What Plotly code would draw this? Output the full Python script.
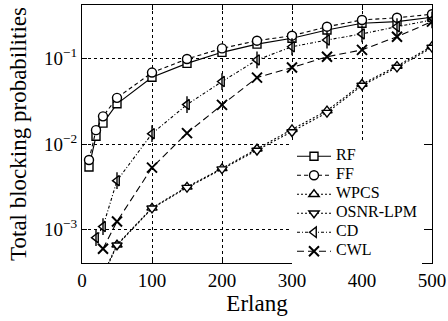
import plotly.graph_objects as go

erlang = [10, 20, 30, 50, 100, 150, 200, 250, 300, 350, 400, 450, 500]
rf = [5.4e-3, 0.0123, 0.0175, 0.0294, 0.060, 0.087, 0.117, 0.146, 0.171, 0.213, 0.255, 0.267, 0.300]
ff = [6.5e-3, 0.0145, 0.0210, 0.0345, 0.068, 0.098, 0.130, 0.160, 0.183, 0.233, 0.279, 0.296, 0.325]

erlang_w = [30, 50, 100, 150, 200, 250, 300, 350, 400, 450, 500]
wpcs = [3.0e-4, 6.7e-4, 1.80e-3, 3.16e-3, 5.2e-3, 8.8e-3, 0.0148, 0.0245, 0.050, 0.081, 0.138]
osnr = [2.9e-4, 6.6e-4, 1.78e-3, 3.10e-3, 5.1e-3, 8.4e-3, 0.0138, 0.0232, 0.048, 0.078, 0.133]

erlang_cd = [20, 30, 50, 100, 150, 200, 250, 300, 350, 400, 450, 500]
cd = [8.1e-4, 1.09e-3, 3.74e-3, 0.0132, 0.0288, 0.0534, 0.0955, 0.136, 0.163, 0.192, 0.233, 0.279]

erlang_cwl = [30, 50, 100, 150, 200, 250, 300, 350, 400, 450, 500]
cwl = [6.0e-4, 1.25e-3, 5.3e-3, 0.0134, 0.0286, 0.0594, 0.0778, 0.104, 0.125, 0.178, 0.267]

FONT = "Liberation Serif"
LEG = '<span style="font-size:16px">{}</span>'
fig = go.Figure()

def add(x, y, name, dash, symbol, size=9, lw=1.4):
    fig.add_trace(go.Scatter(
        x=x, y=y, name=LEG.format(name), mode="lines+markers", legendgroup=name,
        line=dict(color="black", width=1.1, dash=dash),
        marker=dict(symbol=symbol, size=size, color="white",
                    line=dict(color="black", width=lw)),
    ))

add(erlang, rf, "RF", "solid", "square", 8)
add(erlang, ff, "FF", "4px,3px", "circle", 9)
add(erlang_w, wpcs, "WPCS", "2px,2px", "triangle-up", 9)
add(erlang_w, osnr, "OSNR-LPM", "2px,2px", "triangle-down", 9)
add(erlang_cd, cd, "CD", "3px,2px,1px,2px", "triangle-left", 9)
fig.add_trace(go.Scatter(x=erlang_cd, y=cd, mode="markers", showlegend=False, legendgroup="CD",
                         marker=dict(symbol="line-ns-open", size=12, color="black",
                                     line=dict(color="black", width=1.4))))
fig.add_trace(go.Scatter(
    x=erlang_cwl, y=cwl, name=LEG.format("CWL"), mode="lines+markers", legendgroup="CWL",
    line=dict(color="black", width=1.1, dash="7px,4px"),
    marker=dict(symbol="x-thin-open", size=10, color="black", line=dict(color="black", width=2)),
))

axis_common = dict(
    showline=True, linecolor="black", linewidth=1.3, mirror="ticks",
    ticks="inside", ticklen=5, tickcolor="black", tickwidth=1.3,
    showgrid=True, gridcolor="black", gridwidth=1, griddash="3px,3px",
    zeroline=False, automargin=False,
    tickfont=dict(family=FONT, size=19, color="black"),
)

fig.update_xaxes(range=[0, 500], tickvals=[0, 100, 200, 300, 400, 500],
                 title=dict(text="Erlang", font=dict(family=FONT, size=23, color="black"), standoff=4),
                 **axis_common)
fig.update_yaxes(type="log", range=[-3.387, -0.38], tickvals=[1e-3, 1e-2, 1e-1],
                 ticktext=["10<sup>−3</sup>", "10<sup>−2</sup>", "10<sup>−1</sup>"],
                 title=dict(text="Total blocking probabilities", font=dict(family=FONT, size=23, color="black"), standoff=10),
                 **axis_common)

fig.update_layout(
    width=448, height=321,
    margin=dict(l=82, r=16, t=5, b=58),
    plot_bgcolor="white", paper_bgcolor="white",
    font=dict(family=FONT, color="black"),
    legend=dict(x=0.6, y=0.47, xanchor="left", yanchor="top",
                bgcolor="white", borderwidth=0, tracegroupgap=0,
                font=dict(family=FONT, size=10, color="black"),
                itemwidth=34),
)

fig.write_html("out.html", config={"displayModeBar": False},
               post_script="document.body.style.margin='0';")
